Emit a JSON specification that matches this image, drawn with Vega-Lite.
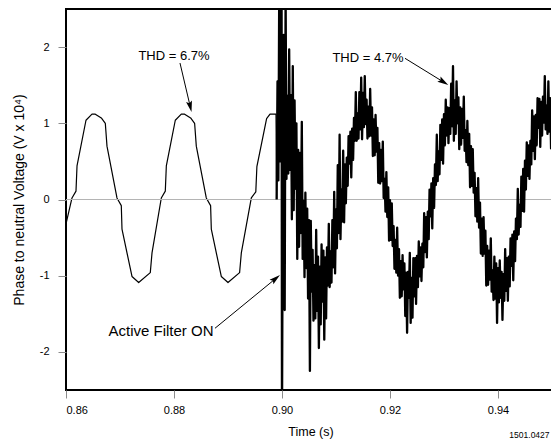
{
  "$schema": "https://vega.github.io/schema/vega-lite/v6.json",
  "width": 489,
  "height": 381,
  "autosize": {"type": "none"},
  "padding": {"left": 66, "top": 9, "right": 0, "bottom": 54},
  "background": "white",
  "config": {
    "view": {"stroke": "black", "strokeWidth": 2},
    "font": "Liberation Sans",
    "axis": {"labelFont": "Liberation Sans", "titleFont": "Liberation Sans"}
  },
  "datasets": {
    "zero": [{"v": 0}],
    "wave": [
      {"t":0.86,"v":-0.32},{"t":0.86111,"v":0.02},{"t":0.86185,"v":0.11},{"t":0.86204,"v":0.44},{"t":0.8637,"v":1.04},{"t":0.86481,"v":1.12},{"t":0.86543,"v":1.12},{"t":0.86654,"v":1.07},{"t":0.86728,"v":1.0},{"t":0.86759,"v":0.7},{"t":0.86944,"v":0.02},{"t":0.87024,"v":-0.08},{"t":0.87037,"v":-0.39},{"t":0.87222,"v":-1.01},{"t":0.87346,"v":-1.09},{"t":0.87561,"v":-0.96},{"t":0.87593,"v":-0.7},{"t":0.87765,"v":0.02},{"t":0.87839,"v":0.11},{"t":0.87858,"v":0.44},{"t":0.88024,"v":1.04},{"t":0.88135,"v":1.12},{"t":0.88197,"v":1.12},{"t":0.88308,"v":1.07},{"t":0.88382,"v":1.0},{"t":0.88413,"v":0.7},{"t":0.88598,"v":0.02},{"t":0.88678,"v":-0.08},{"t":0.88691,"v":-0.39},{"t":0.88876,"v":-1.01},{"t":0.89,"v":-1.09},{"t":0.89215,"v":-0.96},{"t":0.89247,"v":-0.7},{"t":0.89432,"v":0.02},{"t":0.89515,"v":0.1},{"t":0.89535,"v":0.43},{"t":0.89715,"v":1.06},{"t":0.89778,"v":1.12},{"t":0.89889,"v":1.12},{"t":0.89901,"v":0.0},
      {"t":0.89917,"v":1.55},{"t":0.89933,"v":0.25},{"t":0.8995,"v":2.9},{"t":0.89967,"v":0.5},{"t":0.89983,"v":1.9},{"t":0.89992,"v":3.0},{"t":0.9,"v":-3.0},
      {"t":0.90017,"v":0.78},{"t":0.90033,"v":2.16},{"t":0.9005,"v":-1.45},{"t":0.90067,"v":2.7},{"t":0.90083,"v":0.27},
      {"t":0.901,"v":1.36},{"t":0.90117,"v":0.34},{"t":0.90133,"v":1.97},{"t":0.9015,"v":0.39},{"t":0.90167,"v":1.37},{"t":0.90183,"v":-0.26},
      {"t":0.902,"v":1.75},{"t":0.90217,"v":-0.14},{"t":0.90233,"v":1.3},{"t":0.9025,"v":0.14},{"t":0.90267,"v":1.0},{"t":0.90283,"v":-0.78},
      {"t":0.903,"v":0.65},{"t":0.90317,"v":-0.62},{"t":0.90333,"v":0.61},{"t":0.9035,"v":-0.44},{"t":0.90367,"v":1.02},{"t":0.90383,"v":-0.78},
      {"t":0.904,"v":-0.02},{"t":0.90417,"v":-1.02},{"t":0.90433,"v":0.09},{"t":0.9045,"v":-0.9},{"t":0.90467,"v":-0.12},{"t":0.90483,"v":-1.3},
      {"t":0.905,"v":-0.27},{"t":0.90517,"v":-2.25},{"t":0.90533,"v":-0.28},{"t":0.9055,"v":-1.21},{"t":0.90567,"v":-0.66},{"t":0.90583,"v":-1.59},
      {"t":0.906,"v":-0.86},{"t":0.90617,"v":-1.56},{"t":0.90633,"v":-0.4},{"t":0.9065,"v":-1.46},{"t":0.90667,"v":-0.75},{"t":0.90683,"v":-1.95},
      {"t":0.907,"v":-0.88},{"t":0.90717,"v":-1.64},{"t":0.90733,"v":-0.59},{"t":0.9075,"v":-1.34},{"t":0.90767,"v":-0.67},{"t":0.90783,"v":-1.84},
      {"t":0.908,"v":-0.76},{"t":0.90817,"v":-1.56},{"t":0.90833,"v":-0.63},{"t":0.9085,"v":-1.13},{"t":0.90867,"v":-0.32},{"t":0.90883,"v":-1.15},
      {"t":0.909,"v":-0.68},{"t":0.90917,"v":-1.09},{"t":0.90933,"v":-0.27},{"t":0.9095,"v":-0.89},{"t":0.90967,"v":0.1},{"t":0.90983,"v":-0.97},
      {"t":0.91,"v":-0.13},{"t":0.91017,"v":-0.64},{"t":0.91033,"v":0.45},{"t":0.9105,"v":-0.44},{"t":0.91067,"v":0.85},{"t":0.91083,"v":-0.52},
      {"t":0.911,"v":0.13},{"t":0.91117,"v":-0.29},{"t":0.91133,"v":0.64},{"t":0.9115,"v":-0.3},{"t":0.91167,"v":0.46},{"t":0.91183,"v":-0.05},
      {"t":0.912,"v":0.55},{"t":0.91217,"v":0.18},{"t":0.91233,"v":0.83},{"t":0.9125,"v":0.47},{"t":0.91267,"v":0.89},{"t":0.91283,"v":0.29},
      {"t":0.913,"v":0.93},{"t":0.91317,"v":0.52},{"t":0.91333,"v":1.07},{"t":0.9135,"v":0.77},{"t":0.91367,"v":1.41},{"t":0.91383,"v":0.77},
      {"t":0.914,"v":1.13},{"t":0.91417,"v":0.8},{"t":0.91433,"v":1.41},{"t":0.9145,"v":0.92},{"t":0.91467,"v":1.6},{"t":0.91483,"v":0.79},
      {"t":0.915,"v":1.4},{"t":0.91517,"v":0.95},{"t":0.91533,"v":1.62},{"t":0.9155,"v":0.99},{"t":0.91567,"v":1.31},{"t":0.91583,"v":0.8},
      {"t":0.916,"v":1.22},{"t":0.91617,"v":0.83},{"t":0.91633,"v":1.45},{"t":0.9165,"v":0.84},{"t":0.91667,"v":1.21},{"t":0.91683,"v":0.57},
      {"t":0.917,"v":1.05},{"t":0.91717,"v":0.58},{"t":0.91733,"v":1.11},{"t":0.9175,"v":0.63},{"t":0.91767,"v":0.94},{"t":0.91783,"v":0.22},
      {"t":0.918,"v":0.74},{"t":0.91817,"v":0.21},{"t":0.91833,"v":0.65},{"t":0.9185,"v":0.24},{"t":0.91867,"v":0.76},{"t":0.91883,"v":0.02},
      {"t":0.919,"v":0.27},{"t":0.91917,"v":-0.16},{"t":0.91933,"v":0.36},{"t":0.9195,"v":-0.23},{"t":0.91967,"v":0.16},{"t":0.91983,"v":-0.54},
      {"t":0.92,"v":-0.01},{"t":0.92017,"v":-0.53},{"t":0.92033,"v":-0.05},{"t":0.9205,"v":-0.61},{"t":0.92067,"v":-0.35},{"t":0.92083,"v":-0.91},
      {"t":0.921,"v":-0.53},{"t":0.92117,"v":-0.96},{"t":0.92133,"v":-0.37},{"t":0.9215,"v":-1.0},{"t":0.92167,"v":-0.65},{"t":0.92183,"v":-1.29},
      {"t":0.922,"v":-0.81},{"t":0.92217,"v":-1.27},{"t":0.92233,"v":-0.73},{"t":0.9225,"v":-1.18},{"t":0.92267,"v":-0.84},{"t":0.92283,"v":-1.53},
      {"t":0.923,"v":-0.96},{"t":0.92317,"v":-1.75},{"t":0.92333,"v":-0.95},{"t":0.9235,"v":-1.29},{"t":0.92367,"v":-0.7},{"t":0.92383,"v":-1.62},
      {"t":0.924,"v":-1.03},{"t":0.92417,"v":-1.55},{"t":0.92433,"v":-0.77},{"t":0.9245,"v":-1.27},{"t":0.92467,"v":-0.77},{"t":0.92483,"v":-1.37},
      {"t":0.925,"v":-0.74},{"t":0.92517,"v":-1.15},{"t":0.92533,"v":-0.55},{"t":0.9255,"v":-1.01},{"t":0.92567,"v":-0.63},{"t":0.92583,"v":-1.07},
      {"t":0.926,"v":-0.58},{"t":0.92617,"v":-0.89},{"t":0.92633,"v":-0.18},{"t":0.9265,"v":-0.69},{"t":0.92667,"v":-0.23},{"t":0.92683,"v":-0.76},
      {"t":0.927,"v":-0.16},{"t":0.92717,"v":-0.52},{"t":0.92733,"v":0.13},{"t":0.9275,"v":-0.22},{"t":0.92767,"v":0.21},{"t":0.92783,"v":-0.38},
      {"t":0.928,"v":0.28},{"t":0.92817,"v":-0.11},{"t":0.92833,"v":0.46},{"t":0.9285,"v":0.19},{"t":0.92867,"v":0.85},{"t":0.92883,"v":0.24},
      {"t":0.929,"v":0.63},{"t":0.92917,"v":0.33},{"t":0.92933,"v":0.98},{"t":0.9295,"v":0.52},{"t":0.92967,"v":1.05},{"t":0.92983,"v":0.47},
      {"t":0.93,"v":1.12},{"t":0.93017,"v":0.71},{"t":0.93033,"v":1.31},{"t":0.9305,"v":0.84},{"t":0.93067,"v":1.21},{"t":0.93083,"v":0.74},
      {"t":0.931,"v":1.2},{"t":0.93117,"v":0.86},{"t":0.93133,"v":1.52},{"t":0.9315,"v":0.96},{"t":0.93167,"v":1.75},{"t":0.93183,"v":0.77},
      {"t":0.932,"v":1.3},{"t":0.93217,"v":0.86},{"t":0.93233,"v":1.55},{"t":0.9325,"v":1.0},{"t":0.93267,"v":1.34},{"t":0.93283,"v":0.66},
      {"t":0.933,"v":1.21},{"t":0.93317,"v":0.72},{"t":0.93333,"v":1.19},{"t":0.9335,"v":0.81},{"t":0.93367,"v":1.35},{"t":0.93383,"v":0.64},
      {"t":0.934,"v":0.91},{"t":0.93417,"v":0.49},{"t":0.93433,"v":1.03},{"t":0.9345,"v":0.45},{"t":0.93467,"v":0.86},{"t":0.93483,"v":0.16},
      {"t":0.935,"v":0.7},{"t":0.93517,"v":0.18},{"t":0.93533,"v":0.66},{"t":0.9355,"v":0.09},{"t":0.93567,"v":0.35},{"t":0.93583,"v":-0.22},
      {"t":0.936,"v":0.15},{"t":0.93617,"v":-0.29},{"t":0.93633,"v":0.28},{"t":0.9365,"v":-0.37},{"t":0.93667,"v":-0.04},{"t":0.93683,"v":-0.71},
      {"t":0.937,"v":-0.25},{"t":0.93717,"v":-0.74},{"t":0.93733,"v":-0.23},{"t":0.9375,"v":-0.71},{"t":0.93767,"v":-0.41},{"t":0.93783,"v":-1.13},
      {"t":0.938,"v":-0.61},{"t":0.93817,"v":-1.12},{"t":0.93833,"v":-0.67},{"t":0.9385,"v":-1.05},{"t":0.93867,"v":-0.51},{"t":0.93883,"v":-1.21},
      {"t":0.939,"v":-0.93},{"t":0.93917,"v":-1.32},{"t":0.93933,"v":-0.75},{"t":0.9395,"v":-1.3},{"t":0.93967,"v":-0.84},{"t":0.93983,"v":-1.62},
      {"t":0.94,"v":-0.9},{"t":0.94017,"v":-1.35},{"t":0.94033,"v":-0.8},{"t":0.9405,"v":-1.29},{"t":0.94067,"v":-0.95},{"t":0.94083,"v":-1.58},
      {"t":0.941,"v":-0.98},{"t":0.94117,"v":-1.33},{"t":0.94133,"v":-0.65},{"t":0.9415,"v":-1.2},{"t":0.94167,"v":-0.77},{"t":0.94183,"v":-1.33},
      {"t":0.942,"v":-0.75},{"t":0.94217,"v":-1.14},{"t":0.94233,"v":-0.51},{"t":0.9425,"v":-0.87},{"t":0.94267,"v":-0.46},{"t":0.94283,"v":-1.06},
      {"t":0.943,"v":-0.42},{"t":0.94317,"v":-0.81},{"t":0.94333,"v":-0.25},{"t":0.9435,"v":-0.52},{"t":0.94367,"v":0.14},{"t":0.94383,"v":-0.46},
      {"t":0.944,"v":-0.07},{"t":0.94417,"v":-0.36},{"t":0.94433,"v":0.3},{"t":0.9445,"v":-0.15},{"t":0.94467,"v":0.4},{"t":0.94483,"v":-0.16},
      {"t":0.945,"v":0.51},{"t":0.94517,"v":0.13},{"t":0.94533,"v":0.75},{"t":0.9455,"v":0.31},{"t":0.94567,"v":0.71},{"t":0.94583,"v":0.27},
      {"t":0.946,"v":0.77},{"t":0.94617,"v":0.46},{"t":0.94633,"v":1.17},{"t":0.9465,"v":0.64},{"t":0.94667,"v":1.09},{"t":0.94683,"v":0.53},
      {"t":0.947,"v":1.11},{"t":0.94717,"v":0.71},{"t":0.94733,"v":1.33},{"t":0.9475,"v":0.94},{"t":0.94767,"v":1.32},{"t":0.94783,"v":0.69},
      {"t":0.948,"v":1.28},{"t":0.94817,"v":0.84},{"t":0.94833,"v":1.35},{"t":0.9485,"v":1.01},{"t":0.94867,"v":1.62},{"t":0.94883,"v":0.92},
      {"t":0.949,"v":1.23},{"t":0.94917,"v":0.86},{"t":0.94933,"v":1.55},{"t":0.9495,"v":0.89},{"t":0.94967,"v":1.33},{"t":0.94983,"v":0.67},
      {"t":0.95,"v":1.24},{"t":0.95017,"v":0.72},{"t":0.95033,"v":1.3},{"t":0.9505,"v":0.8}
    ],
    "notes": [
      {"label": "THD = 6.7%", "t": 0.88, "v": 1.831},
      {"label": "THD = 4.7%", "t": 0.91593, "v": 1.798},
      {"label": "Active Filter ON", "t": 0.87759, "v": -1.785},
      {"label": "1501.0427", "t": 0.94583, "v": -3.13}
    ],
    "arrows": [
      {"id": "a", "t": 0.88111, "v": 1.791, "t2": 0.88301, "v2": 1.219},
      {"id": "b", "t": 0.92278, "v": 1.853, "t2": 0.92993, "v2": 1.541},
      {"id": "c", "t": 0.88759, "v": -1.69, "t2": 0.89884, "v2": -1.037}
    ]
  },
  "layer": [
    {
      "data": {"name": "wave"},
      "transform": [{"filter": "datum.t <= 0.89901"}],
      "mark": {"type": "line", "color": "black", "strokeWidth": 1.2, "clip": true, "strokeJoin": "round"},
      "encoding": {
        "x": {
          "field": "t", "type": "quantitative",
          "scale": {"domain": [0.86, 0.95056], "nice": false, "zero": false},
          "axis": {
            "values": [0.86, 0.88, 0.9, 0.92, 0.94], "format": ".2f",
            "title": "Time (s)", "grid": false, "domain": false,
            "tickColor": "#8c8c8c", "tickSize": 8, "tickWidth": 1,
            "labelFontSize": 11, "labelColor": "black", "labelPadding": 6,
            "titleFontSize": 12.5, "titleFontWeight": "normal", "titleColor": "black", "titlePadding": 10
          }
        },
        "y": {
          "field": "v", "type": "quantitative",
          "scale": {"domain": [-2.5, 2.5], "nice": false, "zero": false},
          "axis": {
            "values": [-2, -1, 0, 1, 2], "labelExpr": "'' + datum.value",
            "title": "Phase to neutral Voltage (V x 10⁴)", "grid": false, "domain": false,
            "tickColor": "#8c8c8c", "tickSize": 8, "tickWidth": 1,
            "labelFontSize": 11, "labelColor": "black", "labelPadding": 9,
            "titleFontSize": 14, "titleFontWeight": "normal", "titleColor": "black", "titlePadding": 13
          }
        }
      }
    },
    {
      "data": {"name": "zero"},
      "mark": {"type": "rule", "color": "#b4b4b4", "strokeWidth": 1},
      "encoding": {
        "y": {"field": "v", "type": "quantitative"}
      }
    },
    {
      "data": {"name": "wave"},
      "transform": [{"filter": "datum.t >= 0.89901"}],
      "mark": {"type": "line", "color": "black", "strokeWidth": 2.3, "clip": true, "strokeJoin": "round"},
      "encoding": {
        "x": {"field": "t", "type": "quantitative"},
        "y": {"field": "v", "type": "quantitative"}
      }
    },
    {
      "data": {"name": "arrows"},
      "mark": {"type": "rule", "color": "black", "strokeWidth": 1},
      "encoding": {
        "x": {"field": "t", "type": "quantitative"},
        "y": {"field": "v", "type": "quantitative"},
        "x2": {"field": "t2"},
        "y2": {"field": "v2"}
      }
    },
    {
      "data": {"name": "arrows"},
      "transform": [{"filter": "datum.id === 'a'"}],
      "mark": {"type": "point", "shape": "M0,-1L0.55,1L0,0.65L-0.55,1Z", "filled": true, "color": "black", "opacity": 1, "size": 121, "angle": 166.8, "strokeWidth": 0},
      "encoding": {
        "x": {"field": "t2", "type": "quantitative"},
        "y": {"field": "v2", "type": "quantitative"}
      }
    },
    {
      "data": {"name": "arrows"},
      "transform": [{"filter": "datum.id === 'b'"}],
      "mark": {"type": "point", "shape": "M0,-1L0.55,1L0,0.65L-0.55,1Z", "filled": true, "color": "black", "opacity": 1, "size": 121, "angle": 121.7, "strokeWidth": 0},
      "encoding": {
        "x": {"field": "t2", "type": "quantitative"},
        "y": {"field": "v2", "type": "quantitative"}
      }
    },
    {
      "data": {"name": "arrows"},
      "transform": [{"filter": "datum.id === 'c'"}],
      "mark": {"type": "point", "shape": "M0,-1L0.55,1L0,0.65L-0.55,1Z", "filled": true, "color": "black", "opacity": 1, "size": 121, "angle": 50.7, "strokeWidth": 0},
      "encoding": {
        "x": {"field": "t2", "type": "quantitative"},
        "y": {"field": "v2", "type": "quantitative"}
      }
    },
    {
      "data": {"name": "notes"},
      "transform": [{"filter": "indexof(datum.label, 'THD') === 0"}],
      "mark": {"type": "text", "fontSize": 13, "align": "center", "baseline": "alphabetic", "color": "black", "font": "Liberation Sans"},
      "encoding": {
        "x": {"field": "t", "type": "quantitative"},
        "y": {"field": "v", "type": "quantitative"},
        "text": {"field": "label"}
      }
    },
    {
      "data": {"name": "notes"},
      "transform": [{"filter": "datum.label === 'Active Filter ON'"}],
      "mark": {"type": "text", "fontSize": 15, "align": "center", "baseline": "alphabetic", "color": "black", "font": "Liberation Sans"},
      "encoding": {
        "x": {"field": "t", "type": "quantitative"},
        "y": {"field": "v", "type": "quantitative"},
        "text": {"field": "label"}
      }
    },
    {
      "data": {"name": "notes"},
      "transform": [{"filter": "datum.label === '1501.0427'"}],
      "mark": {"type": "text", "fontSize": 8.5, "align": "center", "baseline": "alphabetic", "color": "black", "font": "Liberation Sans"},
      "encoding": {
        "x": {"field": "t", "type": "quantitative"},
        "y": {"field": "v", "type": "quantitative"},
        "text": {"field": "label"}
      }
    }
  ]
}
